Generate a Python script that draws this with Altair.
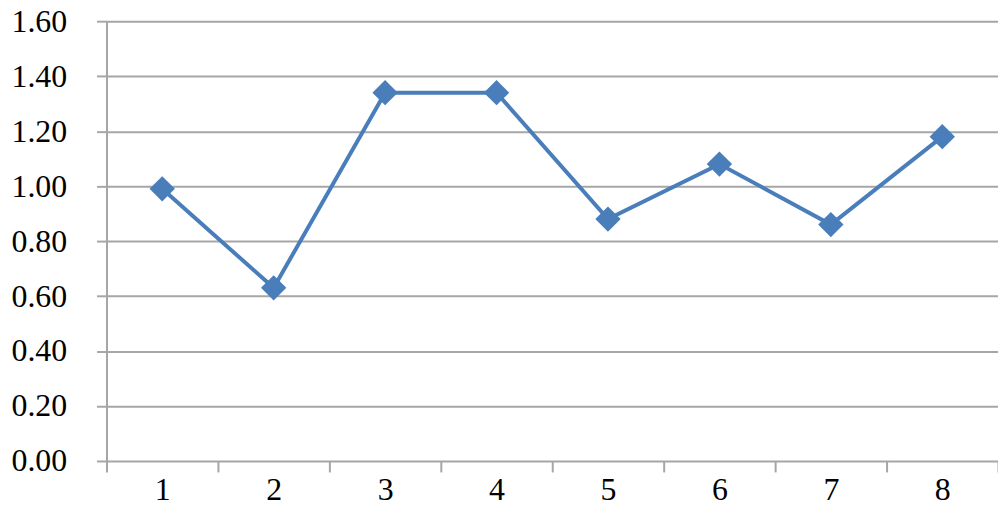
import altair as alt
import pandas as pd

categories = [1, 2, 3, 4, 5, 6, 7, 8]
values = [0.99, 0.63, 1.34, 1.34, 0.88, 1.08, 0.86, 1.18]
y_ticks = [0.0, 0.2, 0.4, 0.6, 0.8, 1.0, 1.2, 1.4, 1.6]
x_ticks = [0.5, 1, 1.5, 2, 2.5, 3, 3.5, 4, 4.5, 5, 5.5, 6, 6.5, 7, 7.5, 8, 8.5]

df = pd.DataFrame({"x": categories, "y": values})

FONT = "Liberation Serif, Times New Roman, Times, serif"
GRID = "#a6a6a6"
BLUE = "#4a7ebb"

x_enc = alt.X(
    "x:Q",
    scale=alt.Scale(domain=[0.5, 8.5], nice=False, zero=False),
    axis=alt.Axis(
        values=x_ticks,
        labelExpr="datum.value % 1 === 0 ? format(datum.value, 'd') : ''",
        tickOpacity={"condition": {"test": "datum.value % 1 !== 0", "value": 1}, "value": 0},
        grid=False,
        domain=False,
        tickColor=GRID,
        tickWidth=2,
        tickSize=11,
        labelPadding=3,
        labelFont=FONT,
        labelFontSize=32,
        labelColor="#000000",
        labelFlush=False,
        labelOverlap=False,
        title=None,
    ),
)
y_enc = alt.Y(
    "y:Q",
    scale=alt.Scale(domain=[0, 1.6], nice=False),
    axis=alt.Axis(
        values=y_ticks,
        format=".2f",
        grid=True,
        gridColor=GRID,
        gridWidth=2,
        domain=True,
        domainColor=GRID,
        domainWidth=2,
        tickColor=GRID,
        tickWidth=2,
        tickSize=10,
        labelPadding=30,
        labelFont=FONT,
        labelFontSize=32,
        labelColor="#000000",
        labelFlush=False,
        labelOverlap=False,
        title=None,
    ),
)

base = alt.Chart(df).encode(x=x_enc, y=y_enc)
line = base.mark_line(color=BLUE, strokeWidth=4)
pts = base.mark_point(shape="diamond", filled=True, size=650, color=BLUE, opacity=1)

chart = (
    alt.layer(line, pts)
    .properties(
        width=896,
        height=442,
        padding={"left": 99, "top": 12, "right": 0, "bottom": 46},
        autosize=alt.AutoSizeParams(type="none"),
    )
    .configure_view(stroke=None)
    .configure(background="white")
)

chart.save("out.html", embed_options={"renderer": "svg", "actions": False})
